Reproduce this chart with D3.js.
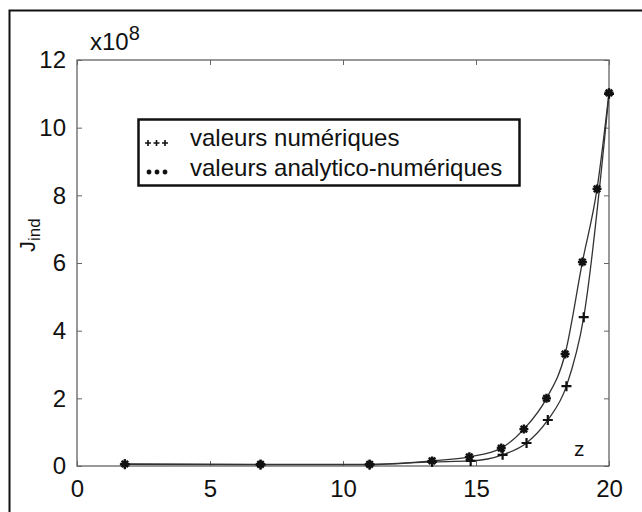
<!DOCTYPE html>
<html lang="fr">
<head>
<meta charset="UTF-8" />
<title>J_ind en fonction de z</title>
<script src="https://cdn.jsdelivr.net/npm/d3@7"></script>
<style>
  body { margin: 0; background: #fff; }
  svg { display: block; font-family: "Liberation Sans", Arial, sans-serif; }
</style>
</head>
<body>
<svg id="chart" width="642" height="512"></svg>
<script>
// values in units of 1e8
const zNum = [1.8, 6.9, 11.0, 13.35, 14.8, 16.0, 16.9, 17.7, 18.4, 19.05, 20.0];
const jNum = [0.05, 0.04, 0.04, 0.12, 0.15, 0.33, 0.68, 1.36, 2.36, 4.4, 11.0];
const zAna = [1.8, 6.9, 11.0, 13.35, 14.75, 15.95, 16.8, 17.65, 18.35, 19.0, 19.55, 20.0];
const jAna = [0.06, 0.05, 0.05, 0.15, 0.27, 0.53, 1.09, 2.0, 3.31, 6.03, 8.19, 11.03];
const xTicks = [0, 5, 10, 15, 20];
const yTicks = [0, 2, 4, 6, 8, 10, 12];
const legendLabels = ["valeurs numériques", "valeurs analytico-numériques"];

const svg = d3.select("#chart");
const plot = {left: 77, right: 609, top: 60, bottom: 466};

const x = d3.scaleLinear().domain([0, 20]).range([plot.left, plot.right]);
const y = d3.scaleLinear().domain([0, 12]).range([plot.bottom, plot.top]);

// outer frame (runs off the picture at right and bottom)
svg.append("rect")
  .attr("x", 9.5).attr("y", 10.5).attr("width", 700).attr("height", 600)
  .attr("fill", "none").attr("stroke", "#111").attr("stroke-width", 2);

// plot box
svg.append("rect")
  .attr("x", plot.left).attr("y", plot.top)
  .attr("width", plot.right - plot.left).attr("height", plot.bottom - plot.top)
  .attr("fill", "none").attr("stroke", "#555").attr("stroke-width", 1.2);

// axes with inward ticks, mirrored on top and right
const tickLen = 5;
svg.append("g").attr("transform", `translate(0,${plot.bottom})`)
  .call(d3.axisBottom(x).tickValues(xTicks).tickSizeInner(-tickLen).tickSizeOuter(0).tickPadding(14))
  .call(g => g.select(".domain").remove())
  .call(g => g.selectAll("line").attr("stroke", "#666"))
  .call(g => g.selectAll("text").attr("font-size", 24).attr("fill", "#111").attr("font-family", "Liberation Sans"));

svg.append("g").attr("transform", `translate(${plot.left},0)`)
  .call(d3.axisLeft(y).tickValues(yTicks).tickSizeInner(-tickLen).tickSizeOuter(0).tickPadding(11))
  .call(g => g.select(".domain").remove())
  .call(g => g.selectAll("line").attr("stroke", "#666"))
  .call(g => g.selectAll("text").attr("font-size", 24).attr("fill", "#111").attr("font-family", "Liberation Sans"));

svg.append("g").attr("transform", `translate(0,${plot.top})`)
  .call(d3.axisTop(x).tickValues(xTicks).tickSizeInner(-tickLen).tickSizeOuter(0).tickFormat(""))
  .call(g => g.select(".domain").remove())
  .call(g => g.selectAll("line").attr("stroke", "#666"));

svg.append("g").attr("transform", `translate(${plot.right},0)`)
  .call(d3.axisRight(y).tickValues(yTicks).tickSizeInner(-tickLen).tickSizeOuter(0).tickFormat(""))
  .call(g => g.select(".domain").remove())
  .call(g => g.selectAll("line").attr("stroke", "#666"));

// exponent label
const expo = svg.append("text").attr("x", 90).attr("y", 50)
  .attr("font-size", 24).attr("fill", "#111");
expo.append("tspan").text("x10");
expo.append("tspan").attr("dy", -10).attr("font-size", 20).text("8");

// y label
const yl = svg.append("text")
  .attr("transform", "translate(35,252) rotate(-90)")
  .attr("font-size", 22).attr("fill", "#111");
yl.append("tspan").text("J");
yl.append("tspan").attr("dy", 5).attr("font-size", 17).text("ind");

// x label
svg.append("text").attr("x", 574).attr("y", 456)
  .attr("font-size", 21).attr("fill", "#111").text("z");

// curves
const numData = zNum.map((z, i) => [z, jNum[i]]);
const anaData = zAna.map((z, i) => [z, jAna[i]]);
const line = d3.line().x(d => x(d[0])).y(d => y(d[1])).curve(d3.curveMonotoneX);

[numData, anaData].forEach(data => {
  svg.append("path").datum(data)
    .attr("d", line)
    .attr("fill", "none").attr("stroke", "#333").attr("stroke-width", 1.3);
});

// markers
function plus(g, cx, cy, r, w) {
  g.append("path")
    .attr("d", `M${cx - r},${cy}H${cx + r}M${cx},${cy - r}V${cy + r}`)
    .attr("stroke", "#111").attr("stroke-width", w).attr("fill", "none");
}
function star(g, cx, cy, r, w) {
  const d = r * 0.72;
  g.append("path")
    .attr("d", `M${cx - r},${cy}H${cx + r}M${cx},${cy - r}V${cy + r}` +
      `M${cx - d},${cy - d}L${cx + d},${cy + d}M${cx - d},${cy + d}L${cx + d},${cy - d}`)
    .attr("stroke", "#111").attr("stroke-width", w).attr("fill", "none");
}

const marks = svg.append("g");
anaData.forEach(d => star(marks, x(d[0]), y(d[1]), 4.5, 2.4));
numData.forEach(d => plus(marks, x(d[0]), y(d[1]), 5, 2.2));

// legend
const lg = svg.append("g");
lg.append("rect")
  .attr("x", 138.5).attr("y", 119.5).attr("width", 381).attr("height", 66)
  .attr("fill", "#fff").attr("stroke", "#111").attr("stroke-width", 2.5);

legendLabels.forEach((label, i) => {
  const cy = i === 0 ? 143 : 172;
  for (let k = 0; k < 3; k++) {
    if (i === 0) plus(lg, 148 + k * 8.5, cy, 3, 1.6);
    else star(lg, 149 + k * 8, cy, 2.4, 1.6);
  }
  lg.append("text")
    .attr("x", 190).attr("y", i === 0 ? 146 : 176)
    .attr("font-size", 24).attr("fill", "#111").text(label);
});
</script>
</body>
</html>
